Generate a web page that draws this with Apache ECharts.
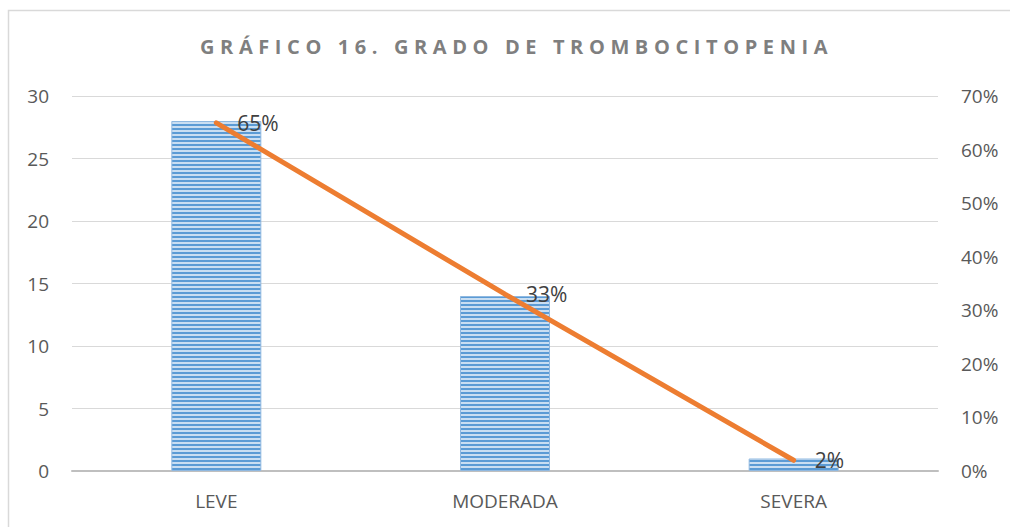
<!DOCTYPE html>
<html>
<head>
<meta charset="utf-8">
<script src="https://cdn.jsdelivr.net/npm/echarts@6/dist/echarts.min.js"></script>
<style>
html,body{margin:0;padding:0;background:#fff}
#c{width:1010px;height:527px}
#c svg text[style*="bold"], #c svg text[font-weight="bold"]{letter-spacing:5.6px}
</style>
</head>
<body>
<div id="c"></div>
<script>
var titleText = 'GRÁFICO 16. GRADO DE TROMBOCITOPENIA';
var categories = ['LEVE', 'MODERADA', 'SEVERA'];
var counts = [28, 14, 1];
var percents = [0.65, 0.33, 0.02];
var leftTicks = [0, 5, 10, 15, 20, 25, 30];
var rightTicks = [0, 0.1, 0.2, 0.3, 0.4, 0.5, 0.6, 0.7];

var cv = document.createElement('canvas');
cv.width = 4; cv.height = 4;
var cx = cv.getContext('2d');
cx.fillStyle = '#c9def2'; cx.fillRect(0, 0, 4, 4);
cx.fillStyle = '#5b9bd5'; cx.fillRect(0, 0, 4, 2);
var stripe = cv.toDataURL();

var chart = echarts.init(document.getElementById('c'), null, { renderer: 'svg' });
var font = '"Open Sans", "Liberation Sans", sans-serif';
chart.setOption({
  animation: false,
  textStyle: { fontFamily: font },
  graphic: [{
    type: 'rect', shape: { x: 8.5, y: 10.5, width: 1020, height: 540 },
    style: { fill: 'none', stroke: '#d9d9d9', lineWidth: 1.5 }, silent: true
  }],
  title: {
    text: titleText, left: 195, top: 31,
    textStyle: { fontSize: 20, fontWeight: 'bold', color: '#7f7f7f', fontFamily: font }
  },
  grid: { left: 72, right: 72, top: 96, bottom: 56 },
  xAxis: {
    type: 'category', data: categories,
    axisLine: { lineStyle: { color: '#bfbfbf', width: 2 } },
    axisTick: { show: false },
    axisLabel: { color: '#595959', fontSize: 19, margin: 20 }
  },
  yAxis: [{
    type: 'value', min: leftTicks[0], max: leftTicks[leftTicks.length - 1], interval: 5,
    axisLine: { show: false }, axisTick: { show: false },
    axisLabel: { color: '#595959', fontSize: 19, margin: 23 },
    splitLine: { lineStyle: { color: '#d9d9d9', width: 1 } }
  }, {
    type: 'value', min: rightTicks[0], max: rightTicks[rightTicks.length - 1], interval: 0.1,
    axisLine: { show: false }, axisTick: { show: false },
    axisLabel: { color: '#595959', fontSize: 19, margin: 23,
      formatter: function (v) { return Math.round(v * 100) + '%'; } },
    splitLine: { show: false }
  }],
  series: [{
    type: 'bar', data: counts, barWidth: 90, yAxisIndex: 0,
    itemStyle: { color: { image: stripe, repeat: 'repeat' }, borderColor: '#8fb8e0', borderWidth: 1 }
  }, {
    type: 'line', data: percents, yAxisIndex: 1,
    symbol: 'circle', symbolSize: 0, showSymbol: true,
    lineStyle: { color: '#ed7d31', width: 5, cap: 'round' },
    itemStyle: { color: '#ed7d31' },
    label: {
      show: true, position: 'right', distance: 21, color: '#404040', fontSize: 21,
      formatter: function (p) { return Math.round(p.value * 100) + '%'; }
    }
  }]
});
</script>
</body>
</html>
